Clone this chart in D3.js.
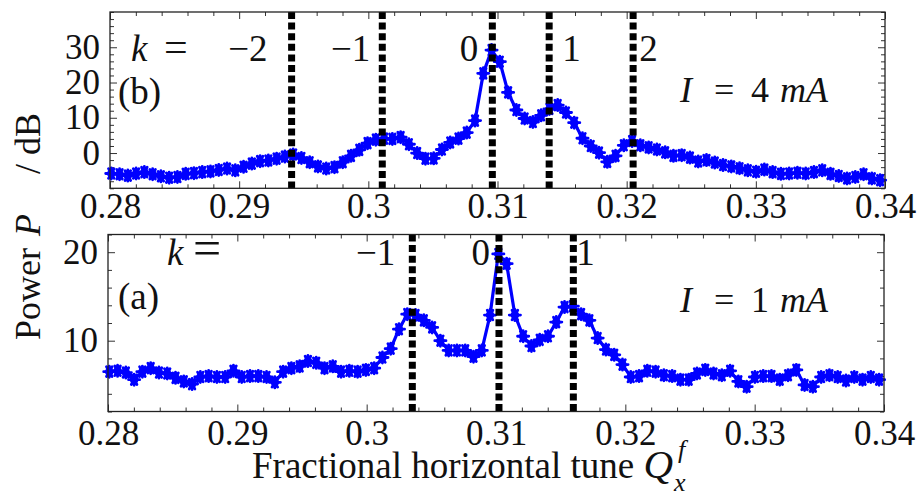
<!DOCTYPE html>
<html>
<head>
<meta charset="utf-8">
<script src="https://cdn.jsdelivr.net/npm/d3@7"></script>
<style>
  html, body { margin: 0; padding: 0; background: #fff; }
  svg { display: block; }
  text { font-family: "Liberation Serif"; fill: #111; }
</style>
</head>
<body>
<svg id="chart" width="920" height="502"></svg>
<script>
// Fractional horizontal tune of each spectrum sample
const tune = [
  0.28010, 0.28074, 0.28138, 0.28202, 0.28266, 0.28330, 0.28394, 0.28458, 0.28522, 0.28586,
  0.28650, 0.28714, 0.28778, 0.28842, 0.28906, 0.28970, 0.29034, 0.29098, 0.29162, 0.29226,
  0.29290, 0.29354, 0.29418, 0.29482, 0.29546, 0.29610, 0.29674, 0.29738, 0.29802, 0.29866,
  0.29930, 0.29994, 0.30058, 0.30122, 0.30186, 0.30250, 0.30314, 0.30378, 0.30442, 0.30506,
  0.30570, 0.30634, 0.30698, 0.30762, 0.30826, 0.30890, 0.30954, 0.31018, 0.31082, 0.31146,
  0.31210, 0.31274, 0.31338, 0.31402, 0.31466, 0.31530, 0.31594, 0.31658, 0.31722, 0.31786,
  0.31850, 0.31914, 0.31978, 0.32042, 0.32106, 0.32170, 0.32234, 0.32298, 0.32362, 0.32426,
  0.32490, 0.32554, 0.32618, 0.32682, 0.32746, 0.32810, 0.32874, 0.32938, 0.33002, 0.33066,
  0.33130, 0.33194, 0.33258, 0.33322, 0.33386, 0.33450, 0.33514, 0.33578, 0.33642, 0.33706,
  0.33770, 0.33834, 0.33898, 0.33962
];

// Power spectrum at I = 4 mA, panel (b), in dB
const power4mA = [
  -5.8, -6.0, -6.4, -5.8, -5.4, -6.0, -6.6, -7.0, -6.8, -5.9,
  -5.7, -5.4, -5.2, -4.8, -4.4, -4.9, -3.9, -3.0, -2.3, -2.1,
  -1.6, -1.0, -0.4, -1.4, -2.6, -3.8, -4.4, -4.0, -2.6, -0.8,
   0.9,  2.8,  3.8,  4.1,  4.0,  4.5,  2.5,  0.0, -1.6, -1.5,
   1.0,  3.0,  4.1,  5.8,  9.2, 22.6, 29.2, 25.9, 17.2, 12.2,
   9.8,  8.8, 10.7, 12.5, 13.6, 11.5,  8.6,  4.2,  2.0,  0.1,
  -2.5, -0.8,  2.2,  3.4,  2.2,  1.6,  1.0,  0.2, -0.8, -0.6,
  -1.3, -2.4, -2.0, -2.7, -3.4, -3.8, -4.3, -4.9, -5.3, -4.7,
  -5.4, -5.9, -5.8, -5.6, -5.8, -5.4, -4.9, -5.9, -6.5, -7.2,
  -6.8, -6.0, -7.2, -7.7
];

// Power spectrum at I = 1 mA, panel (a), in dB
const power1mA = [
   6.5,  6.6,  6.4,  5.6,  6.5,  6.9,  6.4,  6.3,  5.8,  5.4,
   5.1,  5.9,  6.0,  5.9,  5.9,  6.6,  5.9,  6.0,  6.0,  5.9,
   5.3,  6.5,  6.9,  7.1,  7.7,  7.5,  6.9,  7.1,  6.5,  6.6,
   6.5,  6.7,  6.9,  8.1,  9.1, 11.3, 13.0, 12.9, 12.3, 11.5,
  10.0,  8.9,  8.9,  8.9,  8.2,  8.9, 12.9, 19.8, 18.7, 12.9,
  10.5,  9.4, 10.1, 10.5, 12.1, 13.8, 13.9, 13.0, 12.3, 10.3,
   9.0,  8.4,  7.3,  5.9,  6.0,  6.6,  6.5,  6.1,  6.0,  5.6,
   5.6,  6.3,  6.7,  6.3,  6.1,  6.6,  5.4,  4.8,  5.9,  6.0,
   6.0,  5.6,  6.1,  6.7,  5.0,  4.8,  5.9,  6.1,  5.9,  5.5,
   5.9,  5.6,  5.9,  5.6
];

// Axis ticks
const xTicks = [0.28, 0.29, 0.30, 0.31, 0.32, 0.33, 0.34];
const xTickLabels = ["0.28", "0.29", "0.3", "0.31", "0.32", "0.33", "0.34"];
const yTicks4mA = [0, 10, 20, 30];
const yTicks1mA = [10, 20];

// Sideband tunes (order k) marked with dashed lines
const sidebands4mA = [0.29406, 0.30108, 0.30960, 0.31400, 0.32050];
const orders4mA = ["\u22122", "\u22121", "0", "1", "2"];
const sidebands1mA = [0.30353, 0.31023, 0.31598];
const orders1mA = ["\u22121", "0", "1"];

const SERIF = "'Liberation Serif'";
const svg = d3.select("#chart");
svg.append("rect").attr("width", 920).attr("height", 502).attr("fill", "#fff");

const BLUE = "#0000ff";

function minorRange(a, b, step) {
  const out = [];
  const n = Math.round((b - a) / step);
  for (let i = 0; i <= n; i++) out.push(+(a + i * step).toFixed(6));
  return out;
}

function drawPanel(cfg) {
  const { box, yDomain, yTicks, yMinor, values, sidebands, orders, orderLayout,
          kLabel, panelTag, current, xLabelPad } = cfg;
  const x = d3.scaleLinear().domain([0.28, 0.34]).range([box.left, box.right]);
  const y = d3.scaleLinear().domain(yDomain).range([box.bottom, box.top]);
  const g = svg.append("g");

  const xMinor = minorRange(0.28, 0.34, 0.002).filter(v => !xTicks.some(t => Math.abs(t - v) < 1e-6));
  const yMin = yMinor.filter(v => !yTicks.includes(v));

  // minor ticks, all four sides, pointing inward
  g.append("g").attr("transform", `translate(0,${box.bottom})`)
    .call(d3.axisBottom(x).tickValues(xMinor).tickSize(-4).tickFormat(""));
  g.append("g").attr("transform", `translate(0,${box.top})`)
    .call(d3.axisTop(x).tickValues(xMinor).tickSize(-4).tickFormat(""));
  g.append("g").attr("transform", `translate(${box.left},0)`)
    .call(d3.axisLeft(y).tickValues(yMin).tickSize(-4).tickFormat(""));
  g.append("g").attr("transform", `translate(${box.right},0)`)
    .call(d3.axisRight(y).tickValues(yMin).tickSize(-4).tickFormat(""));

  // major ticks with labels
  g.append("g").attr("transform", `translate(0,${box.bottom})`)
    .call(d3.axisBottom(x).tickValues(xTicks).tickSize(-7).tickPadding(xLabelPad)
      .tickFormat((d, i) => xTickLabels[i]));
  g.append("g").attr("transform", `translate(0,${box.top})`)
    .call(d3.axisTop(x).tickValues(xTicks).tickSize(-7).tickFormat(""));
  g.append("g").attr("transform", `translate(${box.left},0)`)
    .call(d3.axisLeft(y).tickValues(yTicks).tickSize(-7).tickPadding(10).tickFormat(d3.format("d")));
  g.append("g").attr("transform", `translate(${box.right},0)`)
    .call(d3.axisRight(y).tickValues(yTicks).tickSize(-7).tickFormat(""));

  g.selectAll(".domain").remove();
  g.selectAll("g").attr("font-family", null);
  g.selectAll(".tick line").attr("stroke", "#333").attr("stroke-width", 1);
  g.selectAll(".tick text")
    .style("font-family", SERIF)
    .attr("font-size", 35).attr("fill", "#111");

  // spectrum line and asterisk markers
  const pts = tune.map((t, i) => [t, values[i]]);
  g.append("path").datum(pts)
    .attr("fill", "none").attr("stroke", BLUE).attr("stroke-width", 3.2)
    .attr("stroke-linejoin", "round")
    .attr("d", d3.line().x(d => x(d[0])).y(d => y(d[1])));

  const star = "M-5.6,0L5.6,0M-2.8,-4.85L2.8,4.85M-2.8,4.85L2.8,-4.85M0,-5.6L0,5.6";
  const mk = g.append("g").selectAll("g").data(pts).join("g")
    .attr("transform", d => `translate(${x(d[0])},${y(d[1])})`);
  mk.append("circle").attr("r", 4.3).attr("fill", BLUE);
  mk.append("path").attr("d", star).attr("stroke", BLUE)
    .attr("stroke-width", 2.8).attr("stroke-linecap", "round").attr("fill", "none");

  // dashed sideband lines
  g.append("g").selectAll("line").data(sidebands).join("line")
    .attr("x1", d => x(d)).attr("x2", d => x(d))
    .attr("y1", box.top).attr("y2", box.bottom)
    .attr("stroke", "#000").attr("stroke-width", 7)
    .attr("stroke-dasharray", "7,3.6");

  // frame
  g.append("rect")
    .attr("x", box.left).attr("y", box.top)
    .attr("width", box.right - box.left).attr("height", box.bottom - box.top)
    .attr("fill", "none").attr("stroke", "#222").attr("stroke-width", 1.3);

  // order labels next to the dashed lines
  g.append("g").selectAll("text").data(sidebands).join("text")
    .attr("x", (d, i) => x(d) + orderLayout[i].dx)
    .attr("y", kLabel.baseline)
    .attr("text-anchor", (d, i) => orderLayout[i].anchor)
    .attr("font-size", 37)
    .text((d, i) => orders[i]);

  // "k =" lead-in
  const kt = g.append("text").attr("x", kLabel.x).attr("y", kLabel.baseline).attr("font-size", 37);
  kt.append("tspan").attr("font-style", "italic").text("k");
  kt.append("tspan").attr("x", kLabel.x + kLabel.eqGap).attr("font-size", kLabel.eqSize).text("=");

  // panel tag
  g.append("text").attr("x", panelTag.x).attr("y", panelTag.y)
    .attr("font-size", 37).text(panelTag.text);

  // beam current
  const ct = g.append("text").attr("y", current.y).attr("font-size", 36).attr("fill", "#000");
  ct.append("tspan").attr("x", 680).attr("font-style", "italic").text("I");
  ct.append("tspan").attr("x", 714).text("=");
  ct.append("tspan").attr("x", 751).text(current.value);
  ct.append("tspan").attr("x", 780).attr("font-style", "italic").text("mA");
}

drawPanel({
  box: { left: 110, right: 885, top: 12, bottom: 188.3 },
  yDomain: [-10, 40],
  yTicks: yTicks4mA,
  yMinor: minorRange(-10, 40, 2),
  values: power4mA,
  sidebands: sidebands4mA,
  orders: orders4mA,
  orderLayout: [
    { dx: -24, anchor: "end" }, { dx: -12, anchor: "end" }, { dx: -14, anchor: "end" },
    { dx: 13, anchor: "start" }, { dx: 6, anchor: "start" }
  ],
  kLabel: { x: 131, baseline: 61, eqGap: 33, eqSize: 42 },
  panelTag: { x: 118, y: 104, text: "(b)" },
  current: { y: 102, value: "4" },
  xLabelPad: 5
});

drawPanel({
  box: { left: 108, right: 884, top: 234.5, bottom: 411.5 },
  yDomain: [2, 22],
  yTicks: yTicks1mA,
  yMinor: minorRange(2, 22, 2),
  values: power1mA,
  sidebands: sidebands1mA,
  orders: orders1mA,
  orderLayout: [
    { dx: -17, anchor: "end" }, { dx: -9, anchor: "end" }, { dx: 3, anchor: "start" }
  ],
  kLabel: { x: 167, baseline: 265, eqGap: 26, eqSize: 50 },
  panelTag: { x: 118, y: 309, text: "(a)" },
  current: { y: 312, value: "1" },
  xLabelPad: 9
});

// y-axis title, rotated, word by word along the left margin
const yTitle = [
  { text: "Power", at: 340, anchor: "start", italic: false },
  { text: "P", at: 236, anchor: "start", italic: true },
  { text: "/", at: 169, anchor: "middle", italic: false },
  { text: "dB", at: 113, anchor: "end", italic: false }
];
svg.append("g").selectAll("text").data(yTitle).join("text")
  .attr("transform", d => `translate(40,${d.at}) rotate(-90)`)
  .attr("text-anchor", d => d.anchor)
  .attr("font-style", d => d.italic ? "italic" : null)
  .attr("font-size", 36)
  .text(d => d.text);

// x-axis title with Q_x^f
const xt = svg.append("text").attr("x", 252).attr("y", 478).attr("font-size", 37);
xt.append("tspan").text("Fractional horizontal tune ");
xt.append("tspan").attr("font-style", "italic").attr("font-size", 41).text("Q");
const qEnd = 252 + xt.node().getComputedTextLength();
svg.append("text").attr("x", qEnd + 5).attr("y", 458).attr("font-size", 26)
  .attr("font-style", "italic").text("f");
svg.append("text").attr("x", qEnd + 1).attr("y", 491).attr("font-size", 26)
  .attr("font-style", "italic").text("x");
</script>
</body>
</html>
